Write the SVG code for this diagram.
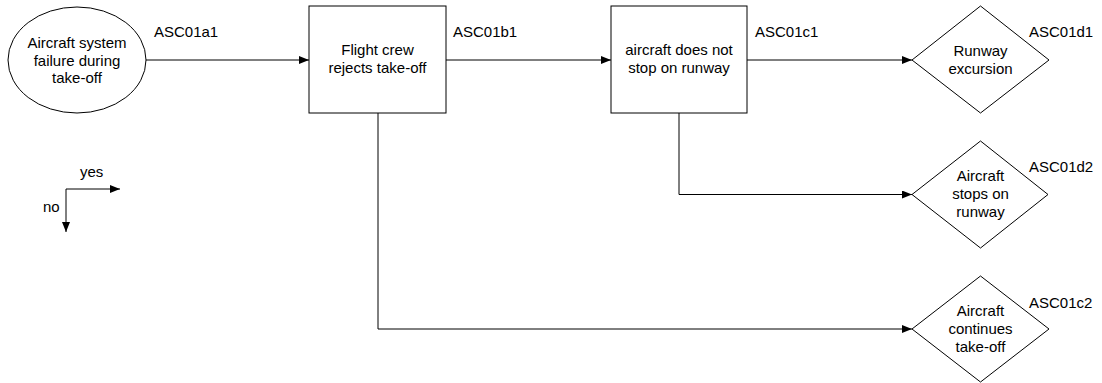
<svg xmlns="http://www.w3.org/2000/svg" width="1102" height="383" viewBox="0 0 1102 383">
<style>
  .shape { fill: #ffffff; stroke: #000000; stroke-width: 1; }
  .conn { fill: none; stroke: #000000; stroke-width: 1; }
  text { font-family: "Liberation Sans", Arial, sans-serif; font-size: 15px; fill: #000000; }
  .c { text-anchor: middle; }
</style>
<defs>
  <marker id="arr" viewBox="0 0 10 8" refX="10" refY="4" markerWidth="10" markerHeight="8" markerUnits="userSpaceOnUse" orient="auto">
    <path d="M0,0 L10,4 L0,8 Z" fill="#000000"/>
  </marker>
</defs>
<rect width="1102" height="383" fill="#ffffff"/>
<g id="connectors">
  <path class="conn" d="M146,60 H309" marker-end="url(#arr)"/>
  <path class="conn" d="M446,60 H611" marker-end="url(#arr)"/>
  <path class="conn" d="M747,60 H912" marker-end="url(#arr)"/>
  <path class="conn" d="M679,113 V194.5 H912" marker-end="url(#arr)"/>
  <path class="conn" d="M378,113 V329 H912" marker-end="url(#arr)"/>
</g>
<g id="labels">
  <text x="154" y="37">ASC01a1</text>
  <text x="453" y="37">ASC01b1</text>
  <text x="755" y="37">ASC01c1</text>
  <text x="1029" y="37">ASC01d1</text>
  <text x="1029" y="172">ASC01d2</text>
  <text x="1029" y="308">ASC01c2</text>
</g>
<g id="a1">
  <ellipse class="shape" cx="77" cy="60" rx="69" ry="53"/>
  <text class="c" x="77" y="48">Aircraft system</text>
  <text class="c" x="77" y="66">failure during</text>
  <text class="c" x="77" y="83">take-off</text>
</g>
<g id="b1">
  <rect class="shape" x="309" y="6" width="137" height="107"/>
  <text class="c" x="377.5" y="55">Flight crew</text>
  <text class="c" x="377.5" y="73">rejects take-off</text>
</g>
<g id="c1">
  <rect class="shape" x="611" y="6" width="136" height="107"/>
  <text class="c" x="679" y="55">aircraft does not</text>
  <text class="c" x="679" y="73">stop on runway</text>
</g>
<g id="d1">
  <polygon class="shape" points="980.5,6 1049,60 980.5,113 912,60"/>
  <text class="c" x="980.5" y="56">Runway</text>
  <text class="c" x="980.5" y="74">excursion</text>
</g>
<g id="d2">
  <polygon class="shape" points="980.5,141 1048,194.5 980.5,248 912,194.5"/>
  <text class="c" x="980.5" y="181">Aircraft</text>
  <text class="c" x="980.5" y="199">stops on</text>
  <text class="c" x="980.5" y="217">runway</text>
</g>
<g id="c2">
  <polygon class="shape" points="980.5,276 1049,329 980.5,382 912,329"/>
  <text class="c" x="980.5" y="316">Aircraft</text>
  <text class="c" x="980.5" y="334">continues</text>
  <text class="c" x="980.5" y="352">take-off</text>
</g>
<g id="legend">
  <path class="conn" d="M66,189 H120" marker-end="url(#arr)"/>
  <path class="conn" d="M66,189 V232" marker-end="url(#arr)"/>
  <text x="80" y="177">yes</text>
  <text x="43" y="212">no</text>
</g>
</svg>
